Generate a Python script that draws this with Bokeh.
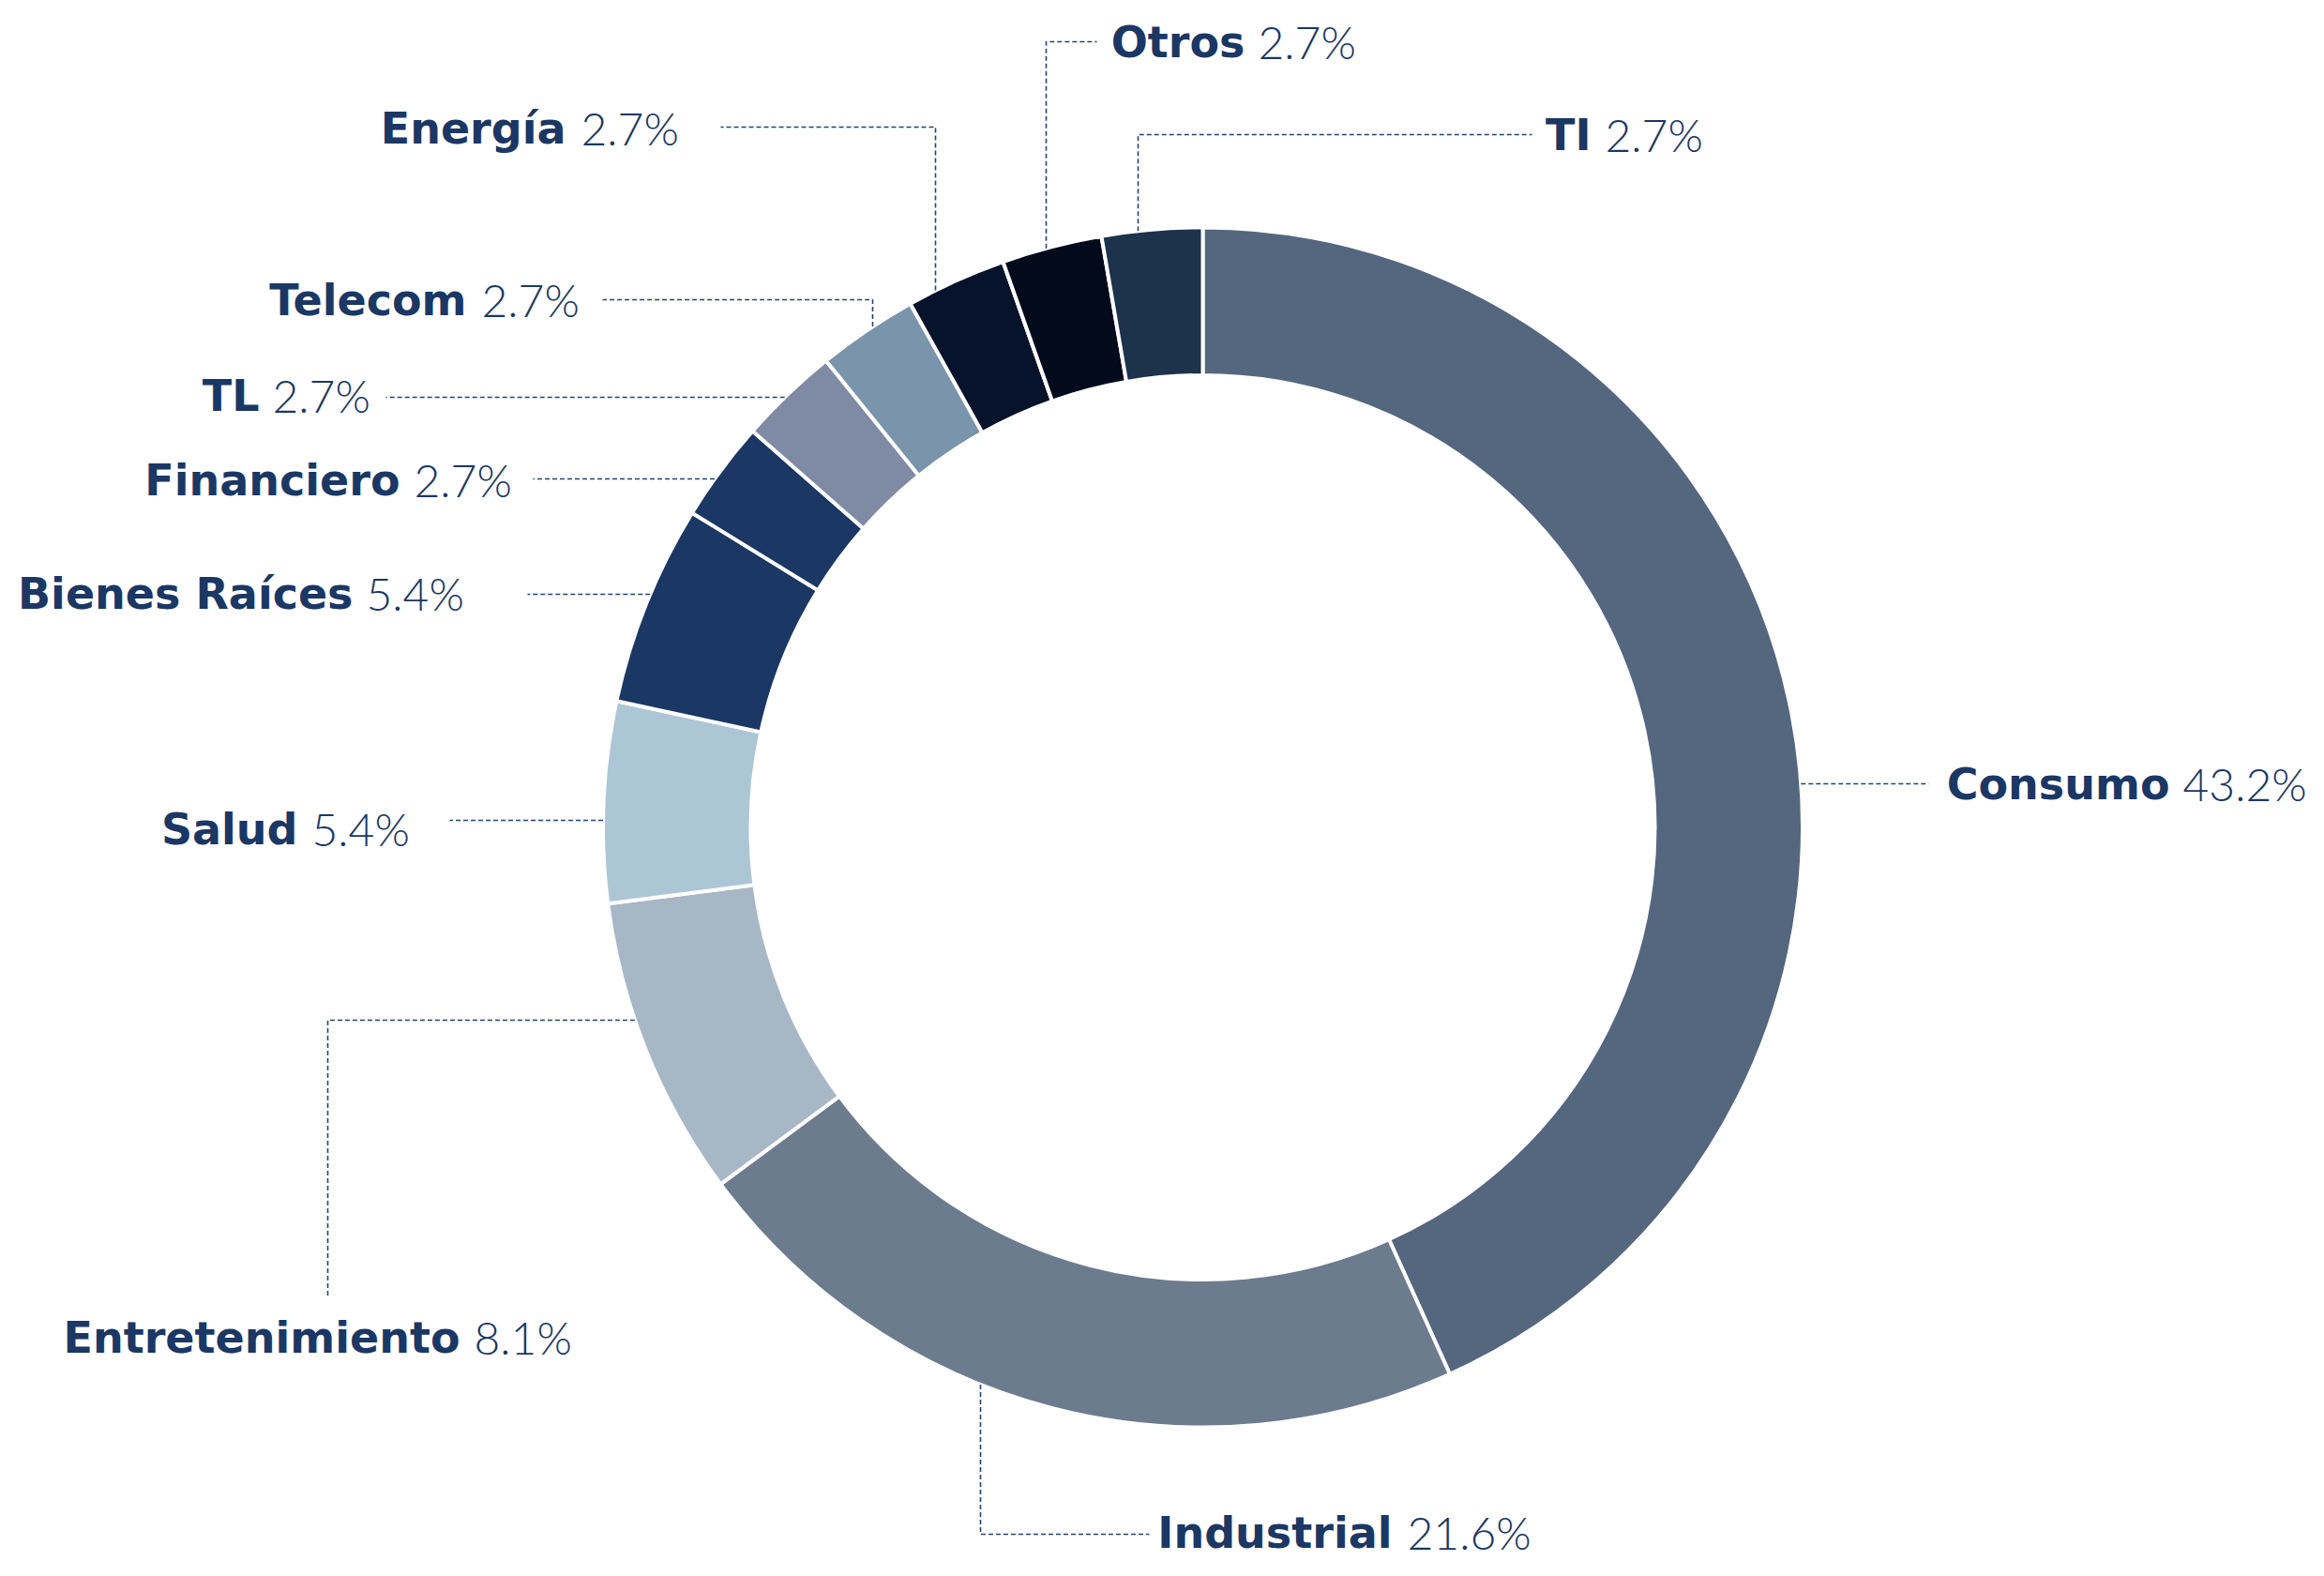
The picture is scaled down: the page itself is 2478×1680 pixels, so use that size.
import math
from bokeh.plotting import figure
from bokeh.models import Range1d, ColumnDataSource
from bokeh.embed import file_html
from bokeh.resources import INLINE
from bokeh.core.properties import value

# ---------------- data ----------------
categories = ["Consumo", "Industrial", "Entretenimiento", "Salud", "Bienes Raíces",
              "Financiero", "TL", "Telecom", "Energía", "Otros", "TI"]
shares = [43.2, 21.6, 8.1, 5.4, 5.4, 2.7, 2.7, 2.7, 2.7, 2.7, 2.7]
colors = ["#55667F", "#6C7B8E", "#A7B7C6", "#ADC6D5", "#1B3764",
          "#1B3764", "#7F8AA4", "#7A94AC", "#07122B", "#020A1B", "#1D324B"]
pct_labels = [f"{v}%" for v in shares]

# ---------------- layout (image pixel coords, y down) ----------------
FW, FH = 2462, 1664
H = 1680
CX, CY = 1282.0, 881.5
R_OUT, R_IN = 639.5, 482.0
TEXT_SHIFT = -17  # baseline correction

# label: (name right edge, percent left edge, baseline y)
label_pos = {
    "Consumo": (2313, 2327, 852),
    "Industrial": (1484, 1500, 1650),
    "Entretenimiento": (490, 505, 1442),
    "Salud": (317, 332, 900),
    "Bienes Raíces": (376, 390, 649),
    "Financiero": (426, 441, 528),
    "TL": (276, 290, 438),
    "Telecom": (497, 513, 336),
    "Energía": (603, 619, 153),
    "Otros": (1327, 1341, 61),
    "TI": (1696, 1711, 160),
}
# leader routes: ("v", x, turn_y, end_x, top) vertical from ring then horizontal
#                ("h", y, end_x, left) horizontal from ring
#                ("hv", y, turn_x, end_y, left) horizontal then vertical
leader_route = {
    "Otros": ("v", 1115, 44, 1169, True),
    "TI": ("v", 1213, 143, 1633, True),
    "Energía": ("v", 997, 135, 768, True),
    "Telecom": ("v", 930, 319, 642, True),
    "TL": ("h", 423, 411, True),
    "Financiero": ("h", 510, 568, True),
    "Bienes Raíces": ("h", 633, 562, True),
    "Salud": ("h", 874, 479, True),
    "Entretenimiento": ("hv", 1087, 349, 1382, True),
    "Industrial": ("v", 1045, 1635, 1225, False),
    "Consumo": ("h", 835, 2056, False),
}


def fy(y):  # image y -> data y
    return H - y


# ---------------- figure ----------------
p = figure(width=FW, height=FH, output_backend="svg", toolbar_location=None,
           x_range=Range1d(0, FW), y_range=Range1d(H - FH, H),
           min_border=0, outline_line_color=None, background_fill_color="white",
           border_fill_color="white")
p.axis.visible = False
p.grid.visible = False

total = sum(shares)
starts, ends = [], []
acc = 0.0
for v in shares:
    f0 = acc / total
    acc += v
    f1 = acc / total
    starts.append(math.pi / 2 - 2 * math.pi * f1)
    ends.append(math.pi / 2 - 2 * math.pi * f0)

src = ColumnDataSource(dict(start=starts, end=ends, color=colors, cat=categories))
p.annular_wedge(x=CX, y=fy(CY), inner_radius=R_IN, outer_radius=R_OUT,
                start_angle="start", end_angle="end", fill_color="color",
                line_color="white", line_width=4, source=src)

# leaders
xs, ys = [], []
for cat in categories:
    r = leader_route[cat]
    if r[0] == "v":
        _, x, ty, ex, top = r
        dy = math.sqrt(R_OUT ** 2 - (x - CX) ** 2)
        ay = CY - dy if top else CY + dy
        px = [x, x, ex]
        py = [ay, ty, ty]
    elif r[0] == "h":
        _, y, ex, left = r
        dx = math.sqrt(R_OUT ** 2 - (y - CY) ** 2)
        ax = CX - dx if left else CX + dx
        px = [ax, ex]
        py = [y, y]
    else:
        _, y, tx, ey, left = r
        dx = math.sqrt(R_OUT ** 2 - (y - CY) ** 2)
        ax = CX - dx if left else CX + dx
        px = [ax, tx, tx]
        py = [y, y, ey]
    xs.append(px)
    ys.append([fy(v) for v in py])
p.multi_line(xs=xs, ys=ys, line_color="#27436E", line_width=1.6, line_dash="5 3")

# labels
TXT = "#1B3764"
name_src = ColumnDataSource(dict(
    x=[label_pos[c][0] for c in categories],
    y=[fy(label_pos[c][2] + TEXT_SHIFT) for c in categories],
    text=categories))
pct_src = ColumnDataSource(dict(
    x=[label_pos[c][1] for c in categories],
    y=[fy(label_pos[c][2] + TEXT_SHIFT) for c in categories],
    text=pct_labels))
p.text(x="x", y="y", text="text", source=name_src, text_align="right",
       text_baseline="alphabetic", text_font=value("DejaVu Sans"),
       text_font_style="bold", text_font_size="46px", text_color=TXT)
p.text(x="x", y="y", text="text", source=pct_src, text_align="left",
       text_baseline="alphabetic", text_font=value("Lato Light"),
       text_font_size="48px", text_color=TXT)

open("out.html", "w").write(file_html(p, INLINE))
